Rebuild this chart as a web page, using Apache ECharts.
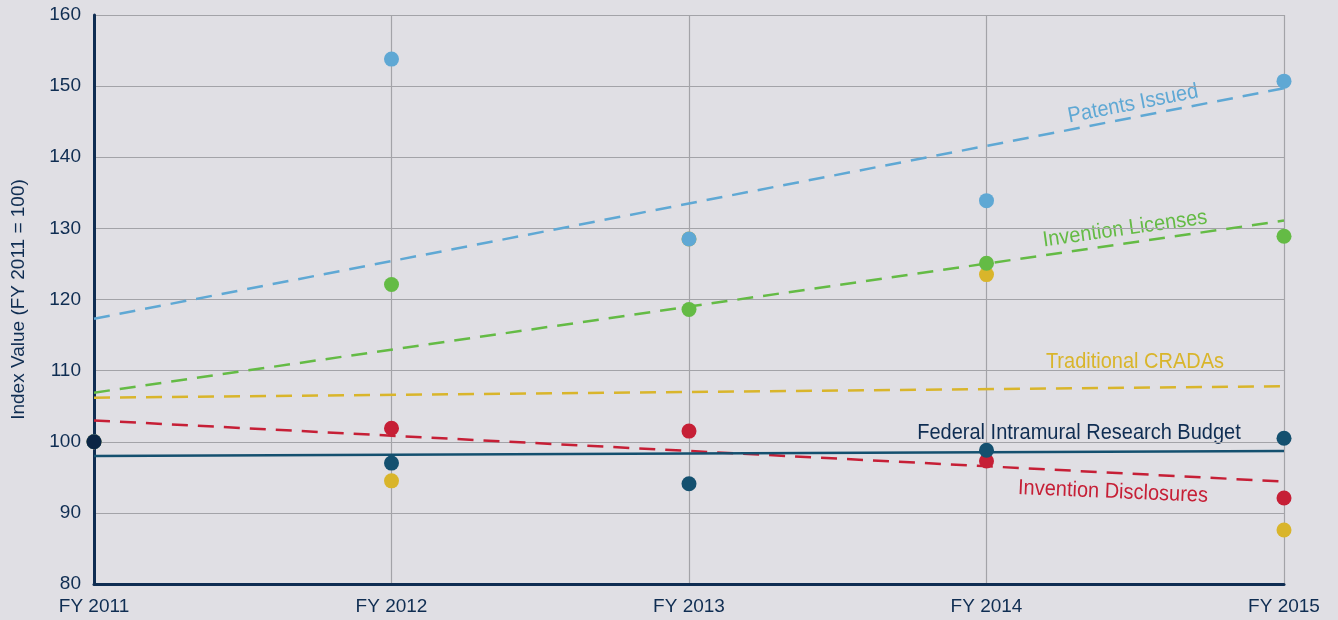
<!DOCTYPE html>
<html>
<head>
<meta charset="utf-8">
<script src="https://cdn.jsdelivr.net/npm/echarts@6/dist/echarts.min.js"></script>
<style>
  html, body { margin: 0; padding: 0; background: #e0dfe4; }
  #chart { width: 1338px; height: 620px; }
</style>
</head>
<body>
<div id="chart"></div>
<script>
// categories
var years = ['FY 2011', 'FY 2012', 'FY 2013', 'FY 2014', 'FY 2015'];

// index values (FY 2011 = 100)
var patents = [100, 153.8, 128.5, 133.9, 150.7];
var licenses = [100, 122.1, 118.6, 125.1, 128.9];
var cradas = [100, 94.5, 128.5, 123.5, 87.6];
var disclosures = [100, 101.9, 101.5, 97.3, 92.1];
var budget = [100, 97.0, 94.1, 98.8, 100.5];

// trend line ends [FY 2011, FY 2015]
var patentsTrend = [117.3, 149.7];
var licensesTrend = [106.9, 131.1];
var cradasTrend = [106.2, 107.8];
var disclosuresTrend = [103.0, 94.4];
var budgetTrend = [98.0, 98.7];

var yTicks = [80, 90, 100, 110, 120, 130, 140, 150, 160];

var navy = '#0f2d52';
var font = '"Liberation Sans Narrow", "Liberation Sans", Arial, sans-serif';

function trendLine(name, ends, color, dashed) {
    return {
        name: name + ' trend',
        type: 'line',
        data: [[0, ends[0]], [years.length - 1, ends[1]]],
        symbol: 'none',
        silent: true,
        lineStyle: { color: color, width: 2.5, type: dashed ? [16, 10] : 'solid' },
        z: 2
    };
}

function dots(name, vals, color) {
    return {
        name: name,
        type: 'scatter',
        data: vals,
        symbolSize: 15,
        itemStyle: { color: color, opacity: 1 },
        z: 3
    };
}

// annotation next to a trend line
function note(text, x, y, deg, color) {
    return {
        type: 'text', x: x, y: y, rotation: deg * Math.PI / 180, scaleY: 1.08,
        style: { text: text, fill: color, font: '20px ' + font, align: 'center', verticalAlign: 'middle' }
    };
}

var chart = echarts.init(document.getElementById('chart'));
chart.setOption({
    backgroundColor: '#e0dfe4',
    animation: false,
    grid: { left: 94, right: 54, top: 15, bottom: 36 },
    xAxis: {
        type: 'category',
        data: years,
        boundaryGap: false,
        axisLine: { lineStyle: { color: navy, width: 3 } },
        axisTick: { show: false },
        axisLabel: { color: navy, fontSize: 19, fontFamily: font, margin: 13 },
        splitLine: { show: true, lineStyle: { color: '#a3a3a8', width: 1.2 } }
    },
    yAxis: {
        type: 'value',
        min: yTicks[0],
        max: yTicks[yTicks.length - 1],
        interval: 10,
        name: 'Index Value (FY 2011 = 100)',
        nameLocation: 'middle',
        nameGap: 66,
        nameTextStyle: { color: navy, fontSize: 19, fontFamily: font },
        axisLine: { show: true, lineStyle: { color: navy, width: 3 } },
        axisTick: { show: false },
        axisLabel: { color: navy, fontSize: 19, fontFamily: font, margin: 13 },
        splitLine: { lineStyle: { color: '#a3a3a8', width: 1.2 } }
    },
    series: [
        trendLine('Traditional CRADAs', cradasTrend, '#d9b52b', true),
        trendLine('Invention Disclosures', disclosuresTrend, '#c61f36', true),
        trendLine('Invention Licenses', licensesTrend, '#64bb45', true),
        trendLine('Patents Issued', patentsTrend, '#5fa8d4', true),
        trendLine('Federal Intramural Research Budget', budgetTrend, '#14506f', false),
        dots('Traditional CRADAs', cradas, '#d9b52b'),
        dots('Invention Disclosures', disclosures, '#c61f36'),
        dots('Invention Licenses', licenses, '#64bb45'),
        dots('Patents Issued', patents, '#5fa8d4'),
        dots('Federal Intramural Research Budget', budget.map(function (v, i) {
            return i === 0 ? { value: v, itemStyle: { color: '#0b2545' } } : v;
        }), '#14506f')
    ],
    graphic: [
        note('Patents Issued', 1133, 104, 11, '#5fa8d4'),
        note('Invention Licenses', 1125, 229, 8, '#64bb45'),
        note('Traditional CRADAs', 1135, 362, 0, '#d9b52b'),
        note('Federal Intramural Research Budget', 1079, 433, 0, navy),
        note('Invention Disclosures', 1113, 492, -2.4, '#c61f36')
    ]
});
</script>
</body>
</html>
